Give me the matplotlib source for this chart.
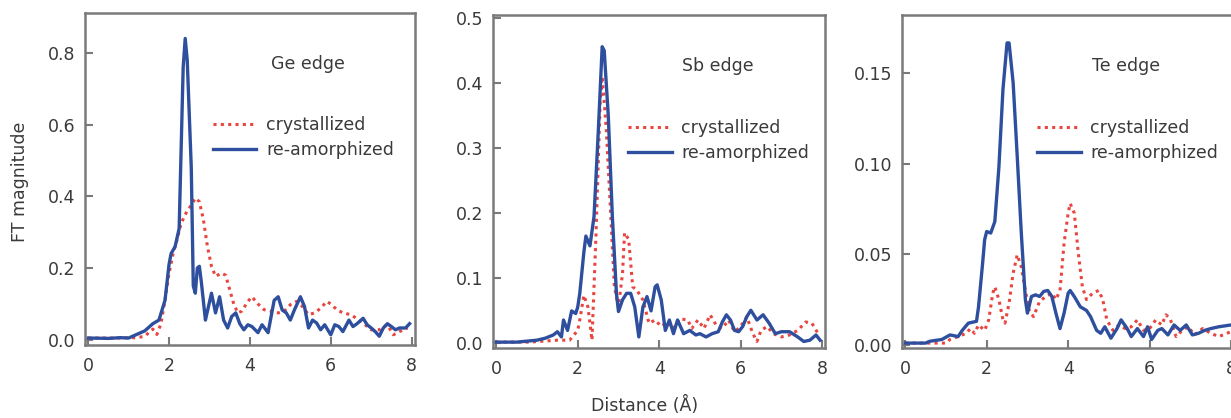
import matplotlib
matplotlib.use("Agg")
import matplotlib.pyplot as plt

# Ge edge
ge_x_amo = [0.0, 0.5, 0.8, 1.0, 1.2, 1.4, 1.6, 1.75, 1.9, 2.0, 2.05, 2.15, 2.25, 2.35, 2.4, 2.45,
            2.55, 2.6, 2.65, 2.7, 2.75, 2.8, 2.9, 2.95, 3.05, 3.15, 3.25, 3.35, 3.45, 3.55, 3.65,
            3.75, 3.85, 3.95, 4.05, 4.2, 4.3, 4.45, 4.6, 4.7, 4.8, 4.9, 5.0, 5.1, 5.25, 5.35, 5.45,
            5.55, 5.65, 5.75, 5.85, 6.0, 6.1, 6.2, 6.3, 6.45, 6.55, 6.65, 6.8, 6.9, 7.0, 7.1, 7.2,
            7.3, 7.4, 7.5, 7.6, 7.7, 7.85, 7.95]
ge_y_amo = [0.005, 0.004, 0.006, 0.005, 0.015, 0.025, 0.045, 0.055, 0.11, 0.21, 0.24, 0.26, 0.31,
            0.76, 0.84, 0.78, 0.48, 0.15, 0.13, 0.20, 0.205, 0.16, 0.055, 0.08, 0.13, 0.075, 0.12,
            0.055, 0.033, 0.065, 0.075, 0.045, 0.028, 0.042, 0.037, 0.02, 0.042, 0.02, 0.11, 0.12,
            0.083, 0.075, 0.055, 0.083, 0.12, 0.093, 0.033, 0.055, 0.047, 0.028, 0.042, 0.014,
            0.042, 0.037, 0.023, 0.055, 0.037, 0.045, 0.06, 0.042, 0.033, 0.023, 0.01, 0.033,
            0.045, 0.037, 0.028, 0.033, 0.033, 0.045]
ge_x_cry = [0.0, 0.7, 1.2, 1.4, 1.5, 1.6, 1.7, 1.8, 1.9, 2.0, 2.1, 2.2, 2.3, 2.45, 2.55, 2.65, 2.75,
            2.85, 2.95, 3.05, 3.15, 3.3, 3.4, 3.5, 3.6, 3.7, 3.8, 3.95, 4.05, 4.2, 4.35, 4.5, 4.7,
            4.85, 5.0, 5.15, 5.3, 5.45, 5.6, 5.75, 5.9, 6.0, 6.15, 6.3, 6.5, 6.7, 6.85, 7.0, 7.2,
            7.4, 7.55, 7.7, 7.9]
ge_y_cry = [0.005, 0.005, 0.006, 0.01, 0.02, 0.03, 0.015, 0.045, 0.11, 0.185, 0.24, 0.28, 0.325,
            0.36, 0.375, 0.395, 0.385, 0.335, 0.26, 0.205, 0.177, 0.186, 0.18, 0.14, 0.10, 0.075,
            0.08, 0.107, 0.12, 0.10, 0.084, 0.08, 0.075, 0.08, 0.098, 0.107, 0.093, 0.07, 0.075,
            0.088, 0.107, 0.10, 0.084, 0.075, 0.07, 0.055, 0.042, 0.028, 0.028, 0.042, 0.014,
            0.023, 0.033]

# Sb edge
sb_x_amo = [0.0, 0.5, 1.0, 1.2, 1.4, 1.5, 1.6, 1.65, 1.75, 1.85, 1.95, 2.0, 2.05, 2.15, 2.2, 2.3,
            2.4, 2.5, 2.6, 2.65, 2.75, 2.85, 2.95, 3.0, 3.1, 3.2, 3.3, 3.4, 3.5, 3.6, 3.7, 3.8, 3.9,
            3.95, 4.05, 4.15, 4.25, 4.35, 4.45, 4.6, 4.75, 4.9, 5.0, 5.15, 5.3, 5.45, 5.55, 5.65,
            5.75, 5.85, 5.95, 6.05, 6.15, 6.25, 6.4, 6.55, 6.7, 6.85, 7.0, 7.2, 7.4, 7.55, 7.7,
            7.85, 7.95]
sb_y_amo = [0.002, 0.002, 0.005, 0.008, 0.013, 0.018, 0.01, 0.036, 0.02, 0.05, 0.046, 0.056, 0.077,
            0.14, 0.165, 0.15, 0.195, 0.32, 0.456, 0.45, 0.35, 0.195, 0.077, 0.049, 0.067, 0.077,
            0.077, 0.056, 0.01, 0.056, 0.072, 0.05, 0.087, 0.09, 0.067, 0.02, 0.036, 0.015, 0.036,
            0.015, 0.02, 0.013, 0.015, 0.01, 0.015, 0.018, 0.033, 0.044, 0.036, 0.02, 0.018, 0.026,
            0.041, 0.051, 0.036, 0.044, 0.031, 0.015, 0.018, 0.018, 0.01, 0.003, 0.005, 0.013,
            0.005]
sb_x_cry = [0.0, 0.8, 1.5, 1.8, 2.0, 2.05, 2.15, 2.25, 2.35, 2.45, 2.55, 2.6, 2.7, 2.8, 2.9, 3.0,
            3.1, 3.15, 3.25, 3.35, 3.45, 3.6, 3.75, 3.9, 4.05, 4.2, 4.35, 4.5, 4.7, 4.8, 4.95, 5.1,
            5.25, 5.4, 5.55, 5.7, 5.85, 6.0, 6.15, 6.3, 6.4, 6.5, 6.65, 6.8, 7.0, 7.2, 7.4, 7.6,
            7.75, 7.9]
sb_y_cry = [0.002, 0.002, 0.005, 0.005, 0.02, 0.036, 0.074, 0.056, 0.005, 0.17, 0.37, 0.41, 0.33,
            0.21, 0.087, 0.056, 0.108, 0.17, 0.16, 0.087, 0.082, 0.067, 0.031, 0.036, 0.026, 0.033,
            0.023, 0.038, 0.036, 0.023, 0.036, 0.023, 0.044, 0.028, 0.023, 0.036, 0.018, 0.026,
            0.041, 0.015, 0.003, 0.02, 0.026, 0.015, 0.01, 0.013, 0.02, 0.033, 0.031, 0.015]

# Te edge
te_x_amo = [0.0, 0.5, 0.6, 0.9, 1.1, 1.3, 1.4, 1.55, 1.75, 1.8, 1.9, 1.95, 2.0, 2.1, 2.2, 2.3, 2.4,
            2.5, 2.55, 2.65, 2.75, 2.85, 2.95, 3.0, 3.1, 3.2, 3.3, 3.4, 3.5, 3.6, 3.7, 3.8, 3.9,
            4.0, 4.05, 4.15, 4.3, 4.45, 4.55, 4.7, 4.8, 4.9, 5.05, 5.2, 5.3, 5.45, 5.55, 5.7, 5.85,
            5.95, 6.05, 6.2, 6.3, 6.45, 6.6, 6.75, 6.9, 7.05, 7.2, 7.35, 7.5, 7.7, 8.0]
te_y_amo = [0.001, 0.001, 0.002, 0.003, 0.0055, 0.0046, 0.008, 0.012, 0.013, 0.021, 0.045, 0.058,
            0.0625, 0.0617, 0.068, 0.098, 0.141, 0.1665, 0.1665, 0.1445, 0.104, 0.0617, 0.025,
            0.0175, 0.0267, 0.0276, 0.0267, 0.0295, 0.030, 0.0267, 0.0175, 0.009, 0.0175, 0.0285,
            0.030, 0.0267, 0.021, 0.019, 0.0156, 0.008, 0.0064, 0.010, 0.0037, 0.009, 0.0138,
            0.009, 0.0046, 0.009, 0.0046, 0.010, 0.003, 0.008, 0.009, 0.0055, 0.011, 0.008, 0.011,
            0.0055, 0.0064, 0.008, 0.009, 0.010, 0.011]
te_x_cry = [0.0, 1.0, 1.1, 1.3, 1.5, 1.6, 1.7, 1.8, 1.95, 2.05, 2.15, 2.2, 2.3, 2.4, 2.45, 2.55,
            2.65, 2.75, 2.85, 2.95, 3.05, 3.15, 3.3, 3.45, 3.6, 3.7, 3.8, 3.9, 4.0, 4.05, 4.15,
            4.25, 4.35, 4.45, 4.6, 4.75, 4.85, 4.95, 5.1, 5.25, 5.4, 5.55, 5.7, 5.85, 6.0, 6.15,
            6.3, 6.4, 6.5, 6.65, 6.8, 6.95, 7.1, 7.3, 7.5, 7.7, 7.9, 8.0]
te_y_cry = [0.001, 0.001, 0.003, 0.0046, 0.0064, 0.009, 0.0064, 0.011, 0.008, 0.0138, 0.0285,
            0.032, 0.025, 0.0138, 0.012, 0.023, 0.0396, 0.0497, 0.043, 0.030, 0.0184, 0.0156,
            0.024, 0.0267, 0.0285, 0.025, 0.030, 0.056, 0.0727, 0.078, 0.0727, 0.0506, 0.032,
            0.025, 0.0285, 0.030, 0.025, 0.0138, 0.008, 0.011, 0.009, 0.010, 0.0138, 0.008, 0.009,
            0.0138, 0.011, 0.0166, 0.0147, 0.0046, 0.008, 0.010, 0.0055, 0.009, 0.0064, 0.0046,
            0.0064, 0.0074]

edge_names = ["Ge edge", "Sb edge", "Te edge"]
y_ticks = [[0.0, 0.2, 0.4, 0.6, 0.8],
           [0.0, 0.1, 0.2, 0.3, 0.4, 0.5],
           [0.00, 0.05, 0.10, 0.15]]
y_fmt = ["{:.1f}", "{:.1f}", "{:.2f}"]
y_lims = [(-0.014, 0.911), (-0.007, 0.505), (-0.0017, 0.182)]
x_ticks = [0, 2, 4, 6, 8]

blue = "#2d4f9e"
red = "#e8453f"
frame = "#7a7a7a"
txt = "#3a3a3a"

fig = plt.figure(figsize=(12.31, 4.18), dpi=100)
boxes = [(0.069, 0.175, 0.268, 0.794),
         (0.4005, 0.1675, 0.27, 0.797),
         (0.7327, 0.1675, 0.27, 0.797)]
leg_x = [0.367, 0.386, 0.386]
leg_y = [0.71, 0.707, 0.707]

data = [(ge_x_cry, ge_y_cry, ge_x_amo, ge_y_amo),
        (sb_x_cry, sb_y_cry, sb_x_amo, sb_y_amo),
        (te_x_cry, te_y_cry, te_x_amo, te_y_amo)]

for i, box in enumerate(boxes):
    ax = fig.add_axes(box)
    xc, yc, xa, ya = data[i]
    ax.plot(xc, yc, color=red, lw=2.2, linestyle=(0, (1, 1.4)), label="crystallized")
    ax.plot(xa, ya, color=blue, lw=2.4, label="re-amorphized")
    ax.set_xlim(-0.08, 8.08)
    ax.set_ylim(*y_lims[i])
    ax.set_xticks(x_ticks)
    ax.set_xticklabels([str(t) for t in x_ticks])
    ax.set_yticks(y_ticks[i])
    ax.set_yticklabels([y_fmt[i].format(t) for t in y_ticks[i]])
    ax.tick_params(direction="in", length=6, width=1.5, color=frame,
                   labelsize=12.5, labelcolor=txt, pad=7)
    ax.tick_params(axis="x", pad=9)
    for sp in ax.spines.values():
        sp.set_color(frame)
        sp.set_linewidth(1.8)
    ax.text(0.675, 0.845, edge_names[i], transform=ax.transAxes, ha="center", va="center",
            fontsize=12.5, color=txt)
    ax.legend(loc="upper left", bbox_to_anchor=(leg_x[i], leg_y[i]), frameon=False,
              fontsize=12.5, handlelength=2.5, handletextpad=0.55, labelspacing=0.4,
              borderaxespad=0, labelcolor=txt)

fig.text(20 / 1231, 1 - 182 / 418, "FT magnitude", rotation=90, ha="center", va="center",
         fontsize=12.5, color=txt)
fig.text(645 / 1231, 1 - 405 / 418, "Distance (Å)", ha="center", va="center",
         fontsize=12.5, color=txt)

fig.savefig("out.png", dpi=100)
